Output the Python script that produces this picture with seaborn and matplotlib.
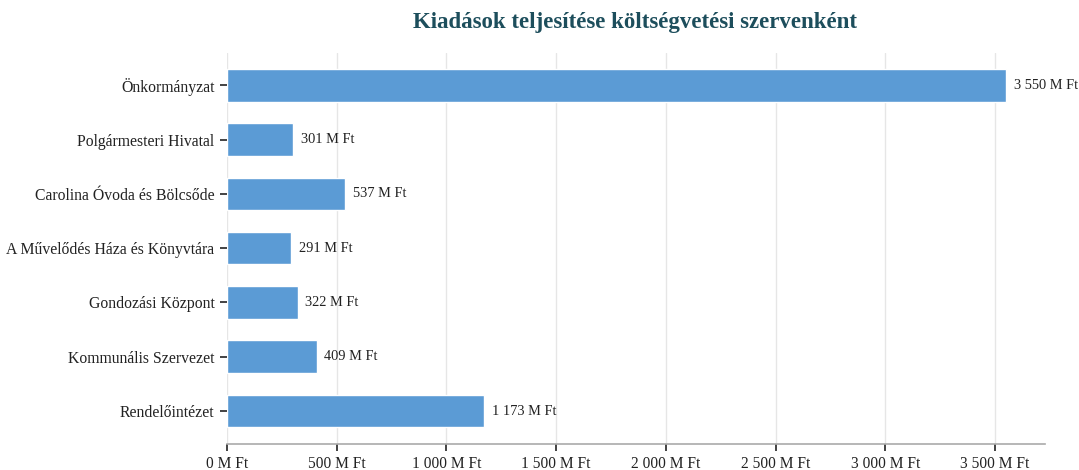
import pandas as pd
import matplotlib.pyplot as plt
import seaborn as sns

categories = [
    "Önkormányzat",
    "Polgármesteri Hivatal",
    "Carolina Óvoda és Bölcsőde",
    "A Művelődés Háza és Könyvtára",
    "Gondozási Központ",
    "Kommunális Szervezet",
    "Rendelőintézet",
]
values = [3550, 301, 537, 291, 322, 409, 1173]
xticks = [0, 500, 1000, 1500, 2000, 2500, 3000, 3500]


def fmt(v):
    return f"{v:,.0f}".replace(",", " ") + " M Ft"


df = pd.DataFrame({"szerv": categories, "ertek": values})

sns.set_style("white")
plt.rcParams["font.family"] = ["Liberation Serif", "DejaVu Serif"]

fig = plt.figure(figsize=(10.79, 4.70), dpi=100)
ax = fig.add_axes([0.2104, 0.056, 0.758, 0.832])

sns.barplot(data=df, x="ertek", y="szerv", color="#5b9bd5", width=0.6,
            saturation=1, ax=ax, zorder=2)

for i, v in enumerate(values):
    ax.annotate(fmt(v), (v, i), xytext=(5.5, 0), textcoords="offset points",
                va="center", ha="left", fontsize=10.4, color="#222222")

ax.set_xlim(0, 3727)
ax.set_ylim(6.6, -0.6)
ax.set_xticks(xticks)
ax.set_xticklabels([fmt(t) for t in xticks], fontsize=11.2, color="#222222")
ax.tick_params(axis="y", labelsize=11.3, labelcolor="#222222", length=5, width=1.2,
               color="#222222", left=True, pad=4)
ax.tick_params(axis="x", length=5, width=1.2, color="#222222", bottom=True, pad=4)
ax.set_xlabel("")
ax.set_ylabel("")
ax.grid(axis="x", color="#e6e6e6", linewidth=1, zorder=0)
ax.set_axisbelow(True)
for s in ["top", "right", "left"]:
    ax.spines[s].set_visible(False)
ax.spines["bottom"].set_color("#aaaaaa")
ax.spines["bottom"].set_linewidth(1.2)

fig.text(0.5885, 0.953, "Kiadások teljesítése költségvetési szervenként", ha="center",
         va="center", fontsize=16.5, fontweight="bold", color="#1d4e5c")

fig.savefig("out.png", dpi=100)
